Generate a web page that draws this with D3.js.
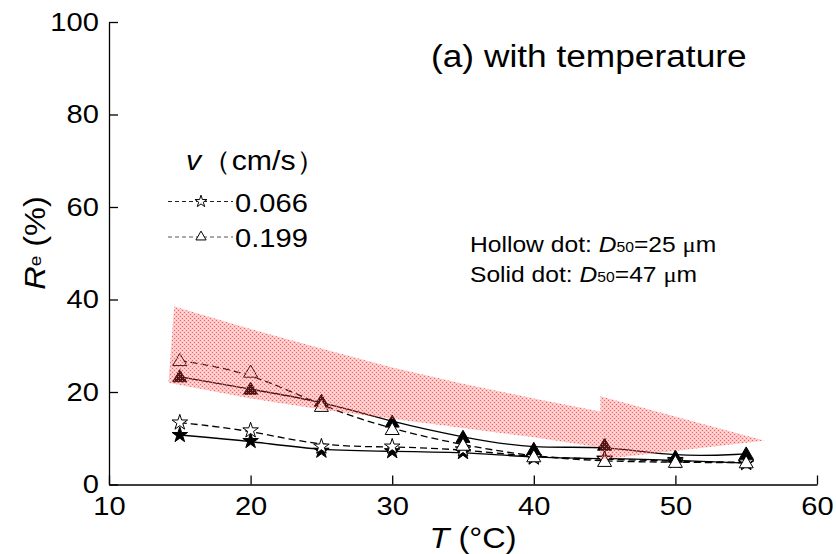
<!DOCTYPE html>
<html>
<head>
<meta charset="UTF-8">
<title>Re with temperature</title>
<script src="https://d3js.org/d3.v7.min.js"></script>
<style>
  body { margin: 0; background: #fff; }
  svg text { font-family: "Liberation Sans", Arial, sans-serif; fill: #000; }
</style>
</head>
<body>
<svg id="chart" width="836" height="554"></svg>
<script>
// temperatures (°C)
const temps = [15, 20, 25, 30, 35, 40, 45, 50, 55];

// Re (%)
const triHollow = [26.8, 24.3, 16.9, 11.9, 8.5, 6.0, 5.0, 4.8, 4.7];   // v=0.199, D50=25
const triSolid  = [23.3, 20.6, 18.0, 13.5, 10.2, 7.6, 8.5, 5.9, 6.6];  // v=0.199, D50=47
const starHollow = [13.4, 11.7, 8.2, 8.2, 7.6, 5.9, 5.5, 5.0, 4.8];   // v=0.066, D50=25
const starSolid  = [10.7, 9.4, 7.3, 7.2, 7.0, 5.8, 5.6, 5.3, 4.6];    // v=0.066, D50=47

// red shaded band, two pieces
const bandTop = [[14.6, 38.5], [20, 33.6], [25, 29.4], [30, 25.3], [35, 21.8], [40, 18.6], [44.7, 15.8]];
const bandBottom = [[14.2, 22.0], [20, 18.6], [25, 16.2], [30, 14.2], [35, 12.2], [40, 10.2], [44.7, 8.0]];
const bandRight = [[44.7, 19.1], [56.3, 9.5], [44.7, 5.4]];

const xTicks = [10, 20, 30, 40, 50, 60];
const yTicks = [0, 20, 40, 60, 80, 100];
const legendLabels = ["0.066", "0.199"];

const SX = 1.12; // text in the source is a bit wide

const svg = d3.select("#chart");
const x = d3.scaleLinear().domain([10, 60]).range([109, 817]);
const y = d3.scaleLinear().domain([0, 100]).range([484.5, 22]);

// speckled pattern for the band
const defs = svg.append("defs");
const pat = defs.append("pattern")
    .attr("id", "dots")
    .attr("width", 4).attr("height", 4)
    .attr("patternUnits", "userSpaceOnUse");
pat.append("rect").attr("width", 4).attr("height", 4).attr("fill", "rgba(250,70,70,0.30)");
pat.append("rect").attr("x", 0).attr("y", 0).attr("width", 1).attr("height", 1).attr("fill", "rgba(225,0,0,0.5)");
pat.append("rect").attr("x", 2).attr("y", 2).attr("width", 1).attr("height", 1).attr("fill", "rgba(225,0,0,0.5)");
pat.append("rect").attr("x", 2).attr("y", 0).attr("width", 1).attr("height", 1).attr("fill", "rgba(255,255,255,0.5)");
pat.append("rect").attr("x", 0).attr("y", 2).attr("width", 1).attr("height", 1).attr("fill", "rgba(255,255,255,0.5)");

// axes
const yAxis = svg.append("g")
    .attr("transform", `translate(${x(10)},0)`)
    .call(d3.axisLeft(y).tickValues(yTicks).tickSizeInner(-9).tickSizeOuter(0).tickPadding(9));
const xAxis = svg.append("g")
    .attr("transform", `translate(0,${y(0)})`)
    .call(d3.axisBottom(x).tickValues(xTicks).tickSizeInner(-9).tickSizeOuter(0).tickPadding(12));
[yAxis, xAxis].forEach(g => {
    g.selectAll("path, line").attr("stroke", "#000").attr("stroke-width", 1.3);
    g.selectAll("text").attr("font-size", 26)
        .attr("font-family", "'Liberation Sans', Arial, sans-serif")
        .attr("transform", `scale(${SX},1)`);
});

// series
const series = [
    { vals: starSolid, sym: d3.symbolStar, size: 75, fill: "#000", dash: null },
    { vals: starHollow, sym: d3.symbolStar, size: 75, fill: "#fff", dash: "7,4" },
    { vals: triSolid, sym: d3.symbolTriangle, size: 85, fill: "#000", dash: null },
    { vals: triHollow, sym: d3.symbolTriangle, size: 85, fill: "#fff", dash: "7,4" }
];

const line = d3.line().x(d => x(d[0])).y(d => y(d[1])).curve(d3.curveBasis);

series.forEach(s => {
    const pts = temps.map((t, i) => [t, s.vals[i]]);
    svg.append("path")
        .datum(pts)
        .attr("d", line)
        .attr("fill", "none")
        .attr("stroke", "#000")
        .attr("stroke-width", 1.3)
        .attr("stroke-dasharray", s.dash);
});
series.forEach(s => {
    const pts = temps.map((t, i) => [t, s.vals[i]]);
    svg.append("g").selectAll("path")
        .data(pts)
        .join("path")
        .attr("transform", d => `translate(${x(d[0])},${y(d[1]) + (s.sym === d3.symbolTriangle ? 1 : 0)})`)
        .attr("d", d3.symbol().type(s.sym).size(s.size))
        .attr("fill", s.fill)
        .attr("stroke", "#000")
        .attr("stroke-width", 1);
});

// band (drawn on top, semi-transparent pattern)
const area = d3.line().x(d => x(d[0])).y(d => y(d[1]));
svg.append("path")
    .attr("d", area(bandTop.concat(bandBottom.slice().reverse())) + "Z")
    .attr("fill", "url(#dots)");
svg.append("path")
    .attr("d", area(bandRight) + "Z")
    .attr("fill", "url(#dots)");

// legend
const legend = svg.append("g");
legend.append("text")
    .attr("transform", `translate(186,170) scale(${SX},1)`)
    .attr("font-size", 27)
    .call(t => {
        t.append("tspan").attr("font-style", "italic").text("v");
        t.append("tspan").text("（cm/s）");
    });
const legSyms = [d3.symbolStar, d3.symbolTriangle];
legendLabels.forEach((lab, i) => {
    const ly = 201.5 + i * 35.5;
    legend.append("line")
        .attr("x1", 168).attr("x2", 233)
        .attr("y1", ly).attr("y2", ly)
        .attr("stroke", i ? "#555" : "#222")
        .attr("stroke-width", 1)
        .attr("stroke-dasharray", "4,3");
    legend.append("path")
        .attr("transform", `translate(201,${ly})`)
        .attr("d", d3.symbol().type(legSyms[i]).size(45))
        .attr("fill", "#fff")
        .attr("stroke", "#000")
        .attr("stroke-width", 1);
    legend.append("text")
        .attr("transform", `translate(235,${ly + 10}) scale(${SX},1)`)
        .attr("font-size", 26)
        .text(lab);
});

// title and notes
svg.append("text")
    .attr("transform", `translate(431,67) scale(${SX},1)`)
    .attr("font-size", 31.5)
    .text("(a) with temperature");

const notes = [["Hollow dot: ", "25"], ["Solid dot: ", "47"]];
notes.forEach((n, i) => {
    svg.append("text")
        .attr("transform", `translate(470,${252 + i * 30}) scale(${SX},1)`)
        .attr("font-size", 22)
        .call(t => {
            t.append("tspan").text(n[0]);
            t.append("tspan").attr("font-style", "italic").text("D");
            t.append("tspan").attr("font-size", 14).text("50");
            t.append("tspan").text("=" + n[1] + " ");
            t.append("tspan").attr("font-family", "'Liberation Serif', serif").text("μ");
            t.append("tspan").text("m");
        });
});

// axis titles
svg.append("text")
    .attr("transform", `translate(473,548) scale(${SX},1)`)
    .attr("text-anchor", "middle")
    .attr("font-size", 29)
    .call(t => {
        t.append("tspan").attr("font-style", "italic").text("T");
        t.append("tspan").text(" (°C)");
    });

svg.append("text")
    .attr("transform", `translate(45,243) rotate(-90) scale(${SX},1)`)
    .attr("text-anchor", "middle")
    .attr("font-size", 29)
    .call(t => {
        t.append("tspan").attr("font-style", "italic").text("R");
        t.append("tspan").attr("font-size", 17).attr("dy", -4).text("e");
        t.append("tspan").attr("dy", 4).text(" (%)");
    });
</script>
</body>
</html>
